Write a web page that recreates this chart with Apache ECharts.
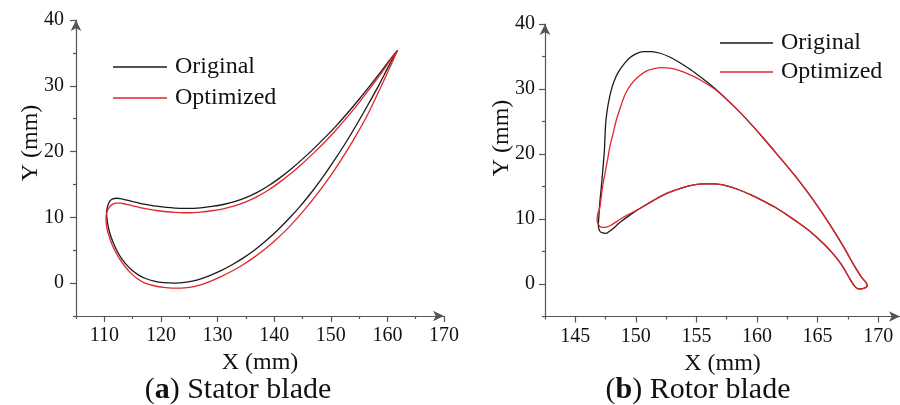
<!DOCTYPE html>
<html>
<head>
<meta charset="utf-8">
<script src="https://cdn.jsdelivr.net/npm/echarts@6/dist/echarts.min.js"></script>
<style>html,body{margin:0;padding:0;background:#fff;}#c{width:900px;height:405px;}</style>
</head>
<body>
<div id="c"></div>
<script>
// ---- Stator blade (a): trailing edge -> upper surface -> leading edge -> lower surface -> trailing edge ----
var stOrigX = [161.8,160.5,159,157,155,153,151,149,147,145,143,141,139,137,135,133,131,129,127,125,124,122.5,121,119.5,118,116.5,115,113.8,112.8,112.1,111.5,111.0,110.7,110.5,110.4,110.45,110.6,110.85,111.2,111.7,112.3,113.0,113.9,114.9,116.0,117.3,118.8,120.5,122.5,124.5,126.5,128.5,130.5,132.5,134.5,136.5,138.5,140.5,142.5,144.5,146.5,148.5,150.5,152.5,154.5,156.5,158.5,160.3,161.8];
var stOrigY = [35.4,34.0,32.3,30.1,27.95,25.9,23.95,22.15,20.45,18.85,17.35,16.0,14.8,13.8,13.0,12.4,11.95,11.65,11.45,11.35,11.35,11.4,11.5,11.65,11.85,12.1,12.4,12.65,12.85,12.9,12.8,12.5,12.0,11.4,10.7,10.0,9.0,8.0,7.0,5.9,4.8,3.8,2.8,1.95,1.25,0.7,0.3,0.07,0.0,0.15,0.5,1.1,1.85,2.75,3.8,5.0,6.4,7.95,9.7,11.6,13.7,16.0,18.5,21.15,24.0,27.0,30.1,33.1,35.4];
var stOptX = [161.8,160.5,159,157,155,153,151,149,147,145,143,141,139,137,135,133,131,129,127,125,124,122.5,121,119.5,118,116.5,115,113.8,112.8,112.1,111.5,111.0,110.6,110.4,110.3,110.35,110.55,110.9,111.35,111.95,112.7,113.6,114.6,115.8,117.2,118.8,120.5,122.0,123.5,125.0,126.5,128.5,130.5,132.5,134.5,136.5,138.5,140.5,142.5,144.5,146.5,148.5,150.5,152.5,154.5,156.5,158.5,160.3,161.8];
var stOptY = [35.4,33.85,32.0,29.7,27.45,25.35,23.35,21.5,19.8,18.2,16.7,15.35,14.15,13.15,12.35,11.75,11.3,11.0,10.8,10.7,10.7,10.75,10.85,11.0,11.2,11.45,11.75,12.0,12.15,12.15,12.0,11.65,11.1,10.55,10.0,9.0,8.0,7.0,5.9,4.8,3.7,2.6,1.6,0.7,0.0,-0.4,-0.65,-0.75,-0.75,-0.65,-0.4,0.2,0.95,1.8,2.8,3.95,5.25,6.75,8.4,10.3,12.35,14.6,17.0,19.65,22.5,25.6,29.2,32.5,35.4];

// ---- Rotor blade (b): leading edge -> suction side -> trailing edge -> pressure side -> leading edge ----
var roOrigX = [147.6,147.25,147.0,146.9,146.95,147.0,147.1,147.2,147.3,147.4,147.45,147.5,147.6,147.75,147.95,148.2,148.55,149.0,149.5,150.0,150.6,151.3,152.0,152.7,153.5,154.5,155.5,156.5,157.5,158.5,159.5,160.5,161.5,162.5,163.5,164.5,165.5,166.5,167.3,168.0,168.6,169.0,169.1,168.9,168.6,168.3,168.0,167.6,167.0,166.3,165.5,164.5,163.5,162.5,161.5,160.5,159.5,158.5,157.5,156.5,155.5,154.5,153.5,152.5,151.5,150.5,149.5,148.7,148.1,147.6];
var roOrigY = [7.8,7.85,8.2,9.0,10.5,12.0,14.0,16.0,18.2,20.5,22.5,24.5,26.3,28.0,29.7,31.2,32.6,33.8,34.8,35.4,35.75,35.75,35.5,35.0,34.2,33.0,31.6,30.1,28.4,26.6,24.6,22.5,20.3,18.1,15.8,13.3,10.6,7.7,5.2,2.9,1.1,0.2,-0.3,-0.6,-0.75,-0.7,-0.2,1.0,2.9,4.6,6.2,7.9,9.3,10.6,11.8,12.8,13.7,14.5,15.1,15.4,15.4,15.15,14.6,13.9,12.9,11.8,10.6,9.5,8.5,7.8];
var roOptX = [147.5,147.1,146.9,146.8,146.85,147.0,147.15,147.3,147.5,147.7,147.85,148.1,148.4,148.75,149.1,149.6,150.2,150.9,151.5,152.1,152.8,153.5,154.2,154.8,155.5,156.5,157.5,158.5,159.5,160.5,161.5,162.5,163.5,164.5,165.5,166.5,167.3,168.0,168.6,169.0,169.1,168.9,168.6,168.3,168.0,167.6,167.0,166.3,165.5,164.5,163.5,162.5,161.5,160.5,159.5,158.5,157.5,156.5,155.5,154.5,153.5,152.5,151.5,150.5,149.7,149.0,148.4,147.9,147.5];
var roOptY = [8.7,8.75,9.2,9.8,10.8,11.5,13.5,15.5,17.5,19.5,21.1,23.0,25.3,27.3,29.1,30.7,31.9,32.8,33.15,33.3,33.2,32.9,32.4,31.9,31.2,30.0,28.4,26.6,24.6,22.5,20.3,18.1,15.8,13.3,10.6,7.7,5.2,2.9,1.1,0.2,-0.3,-0.6,-0.75,-0.7,-0.2,1.0,2.9,4.6,6.2,7.9,9.3,10.6,11.8,12.8,13.7,14.5,15.1,15.4,15.4,15.15,14.6,13.9,12.9,11.8,11.0,10.3,9.6,9.0,8.7];

// ---- tick values ----
var stXMajor = [110,120,130,140,150,160,170];
var stXMinor = [105,115,125,135,145,155,165];
var roXMajor = [145,150,155,160,165,170];
var roXMinor = [142.5,147.5,152.5,157.5,162.5,167.5];
var yMajor = [0,10,20,30,40];
var yMinor = [-5,5,15,25,35];
var seriesNames = ['Original','Optimized'];
var captions = ['a','Stator blade','b','Rotor blade'];

function zip(xs, ys){ return xs.map(function(x,i){ return [x, ys[i]]; }); }

var FONT = 'Liberation Serif';
var AX = '#555';
var BLACK = '#1a1a1a', RED = '#e0262a';

function majorX(grid, min, max, ticks, name){
  return {gridIndex:grid, type:'value', position:'bottom', min:min, max:max,
    axisLine:{show:true, onZero:false, symbol:['none','arrow'], symbolSize:[8,11], lineStyle:{color:AX, width:1.2}},
    axisTick:{show:true, customValues:ticks, length:6, lineStyle:{color:AX, width:1.2}},
    axisLabel:{show:true, customValues:ticks, margin:10, fontFamily:FONT, fontSize:20, color:'#111'},
    splitLine:{show:false},
    name:name, nameLocation:'middle', nameGap:28,
    nameTextStyle:{fontFamily:FONT, fontSize:24, color:'#111'}};
}
function minorX(grid, min, max, ticks){
  return {gridIndex:grid, type:'value', position:'bottom', min:min, max:max,
    axisLine:{show:false, onZero:false},
    axisTick:{show:true, customValues:ticks, length:3, lineStyle:{color:AX, width:1.2}},
    axisLabel:{show:false}, splitLine:{show:false}};
}
function majorY(grid, min, max, ticks, margin){
  return {gridIndex:grid, type:'value', position:'left', min:min, max:max,
    axisLine:{show:true, onZero:false, symbol:['none','arrow'], symbolSize:[8,11], lineStyle:{color:AX, width:1.2}},
    axisTick:{show:true, customValues:ticks, length:6, lineStyle:{color:AX, width:1.2}},
    axisLabel:{show:true, customValues:ticks, margin:margin, fontFamily:FONT, fontSize:20, color:'#111'},
    splitLine:{show:false}};
}
function minorY(grid, min, max, ticks){
  return {gridIndex:grid, type:'value', position:'left', min:min, max:max,
    axisLine:{show:false, onZero:false},
    axisTick:{show:true, customValues:ticks, length:3, lineStyle:{color:AX, width:1.2}},
    axisLabel:{show:false}, splitLine:{show:false}};
}
function line(name, xi, xs, ys, color){
  return {name:name, type:'line', xAxisIndex:xi, yAxisIndex:xi, data:zip(xs, ys),
    symbol:'none', smooth:0.25, clip:false, animation:false,
    lineStyle:{color:color, width:1.3}, itemStyle:{color:color}};
}
function legendAt(left, top, w, gap){
  return {data:seriesNames, orient:'vertical', left:left, top:top, icon:'rect',
    itemWidth:w, itemHeight:1.5, itemGap:gap,
    textStyle:{fontFamily:FONT, fontSize:24, color:'#111', padding:[0,0,0,3]}};
}

var chart = echarts.init(document.getElementById('c'), null, {renderer:'canvas'});
chart.setOption({
  backgroundColor:'#fff',
  animation:false,
  grid:[
    {left:76, top:20, width:368, height:296},
    {left:545, top:24, width:355, height:292.5}
  ],
  xAxis:[
    majorX(0, 105, 170, stXMajor, 'X (mm)'),
    minorX(0, 105, 170, stXMinor),
    majorX(1, 142.5, 171.8, roXMajor, 'X (mm)'),
    minorX(1, 142.5, 171.8, roXMinor)
  ],
  yAxis:[
    majorY(0, -5, 40, yMajor, 12),
    minorY(0, -5, 40, yMinor),
    majorY(1, -5, 40, yMajor, 10),
    minorY(1, -5, 40, yMinor)
  ],
  legend:[
    legendAt(108, 50, 54, 7),
    legendAt(715, 26, 53, 5)
  ],
  series:[
    line(seriesNames[0], 0, stOrigX, stOrigY, BLACK),
    line(seriesNames[1], 0, stOptX, stOptY, RED),
    line(seriesNames[0], 2, roOrigX, roOrigY, BLACK),
    line(seriesNames[1], 2, roOptX, roOptY, RED)
  ],
  graphic:[
    {type:'text', x:31, y:143, rotation:Math.PI/2,
      style:{text:'Y (mm)', fontFamily:FONT, fontSize:24, fill:'#111', align:'center', verticalAlign:'middle'}},
    {type:'text', x:502, y:138, rotation:Math.PI/2,
      style:{text:'Y (mm)', fontFamily:FONT, fontSize:24, fill:'#111', align:'center', verticalAlign:'middle'}},
    {type:'text', x:238, y:390,
      style:{text:'({b|' + captions[0] + '}) ' + captions[1], fontFamily:FONT, fontSize:30, fill:'#111', align:'center', verticalAlign:'middle',
        rich:{b:{fontFamily:FONT, fontSize:30, fontWeight:'bold', fill:'#111'}}}},
    {type:'text', x:698, y:390,
      style:{text:'({b|' + captions[2] + '}) ' + captions[3], fontFamily:FONT, fontSize:30, fill:'#111', align:'center', verticalAlign:'middle',
        rich:{b:{fontFamily:FONT, fontSize:30, fontWeight:'bold', fill:'#111'}}}}
  ]
});
</script>
</body>
</html>
